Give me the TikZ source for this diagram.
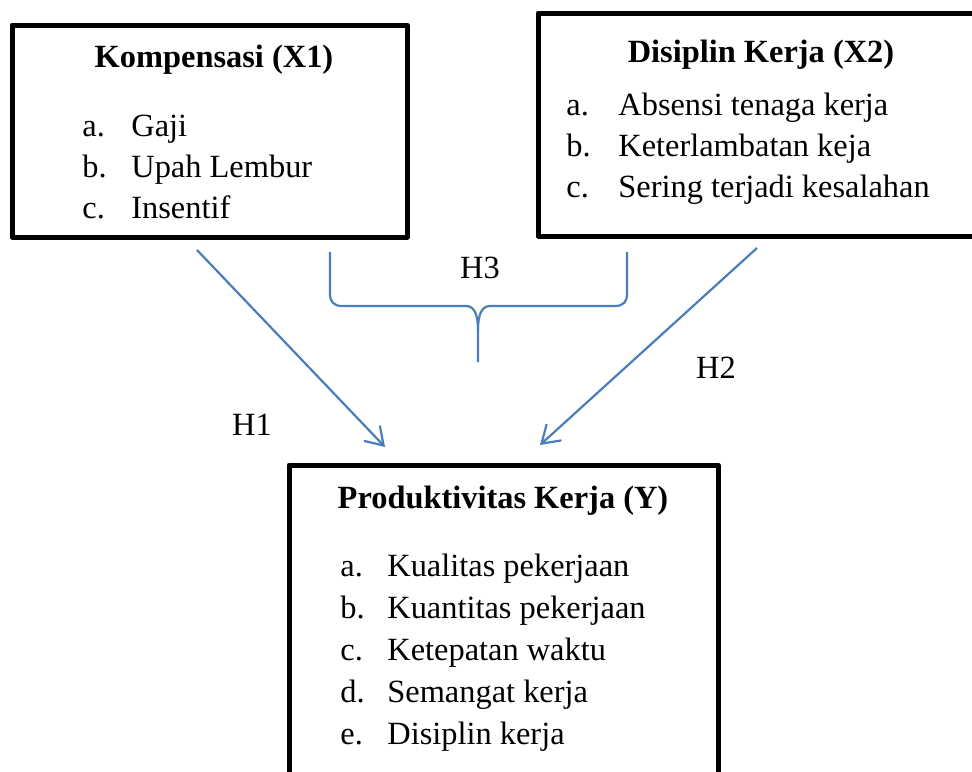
\documentclass[tikz,border=0pt]{standalone}
\usepackage{fontspec}
\setmainfont{Liberation Serif}
\usetikzlibrary{arrows.meta}
\definecolor{KPBlue}{HTML}{4A7EBB}
\newcommand{\kplist}[2]{\begin{tabular}[t]{@{}p{#1}@{}l@{}}#2\end{tabular}}

\begin{document}
\begin{tikzpicture}[x=0.5pt,y=-0.5pt,line join=round,
    every node/.style={font=\fontsize{16.2}{20.5}\selectfont,inner sep=0pt},
    box/.style={draw=black,line width=2.5pt,rectangle},
    head/.style={font=\fontsize{16.2}{20.5}\selectfont\bfseries,anchor=base},
    items/.style={anchor=base west,align=left},
    link/.style={KPBlue,line width=1.1pt},
    arrowlink/.style={link,-{Straight Barb[length=8.5pt,width=11pt]}}]
  \useasboundingbox (0,0) rectangle (972,771);
  \clip (0,0) rectangle (972,771);
  % boxes
  \node[box,minimum width=197.5pt,minimum height=106pt] (kom) at (209.5,131) {};
  \node[box,minimum width=222pt,minimum height=111.5pt] (dis) at (760,124.5) {};
  \node[box,minimum width=214.5pt,minimum height=162.5pt] (prod) at (503.5,627.5) {};
  % texts
  \node[head] (komT) at (214,67) {Kompensasi (X1)};
  \node[items] (komL) at (82,136) {\kplist{24.5pt}{a. & Gaji\\ b. & Upah Lembur\\ c. & Insentif}};
  \node[head] (disT) at (761,62) {Disiplin Kerja (X2)};
  \node[items] (disL) at (566,115) {\kplist{26pt}{a. & Absensi tenaga kerja\\ b. & Keterlambatan keja\\ c. & Sering terjadi kesalahan}};
  \node[head] (prodT) at (503,508) {Produktivitas Kerja (Y)};
  \node[items,font=\fontsize{16.2}{21}\selectfont] (prodL) at (340,576) {\kplist{23.5pt}{a. & Kualitas pekerjaan\\ b. & Kuantitas pekerjaan\\ c. & Ketepatan waktu\\ d. & Semangat kerja\\ e. & Disiplin kerja}};
  % hypotheses
  \coordinate (h1a) at (197,250);
  \coordinate (h1b) at (385,447);
  \coordinate (h2a) at (757,248);
  \coordinate (h2b) at (540,445);
  \coordinate (h3tip) at (478,362);
  \draw[arrowlink] (h1a) -- (h1b);
  \draw[arrowlink] (h2a) -- (h2b);
  \draw[link] (330,252) -- (330,294) .. controls (330,302) and (334,306) .. (342,306) -- (466,306)
    .. controls (474,306) and (478,314) .. (478,330) -- (h3tip);
  \draw[link] (627,252) -- (627,294) .. controls (627,302) and (623,306) .. (615,306) -- (490,306)
    .. controls (482,306) and (478,314) .. (478,330);
  \node (h1) at (252,425) {H1};
  \node (h2) at (716,368) {H2};
  \node (h3) at (480,268) {H3};
\end{tikzpicture}
\end{document}
